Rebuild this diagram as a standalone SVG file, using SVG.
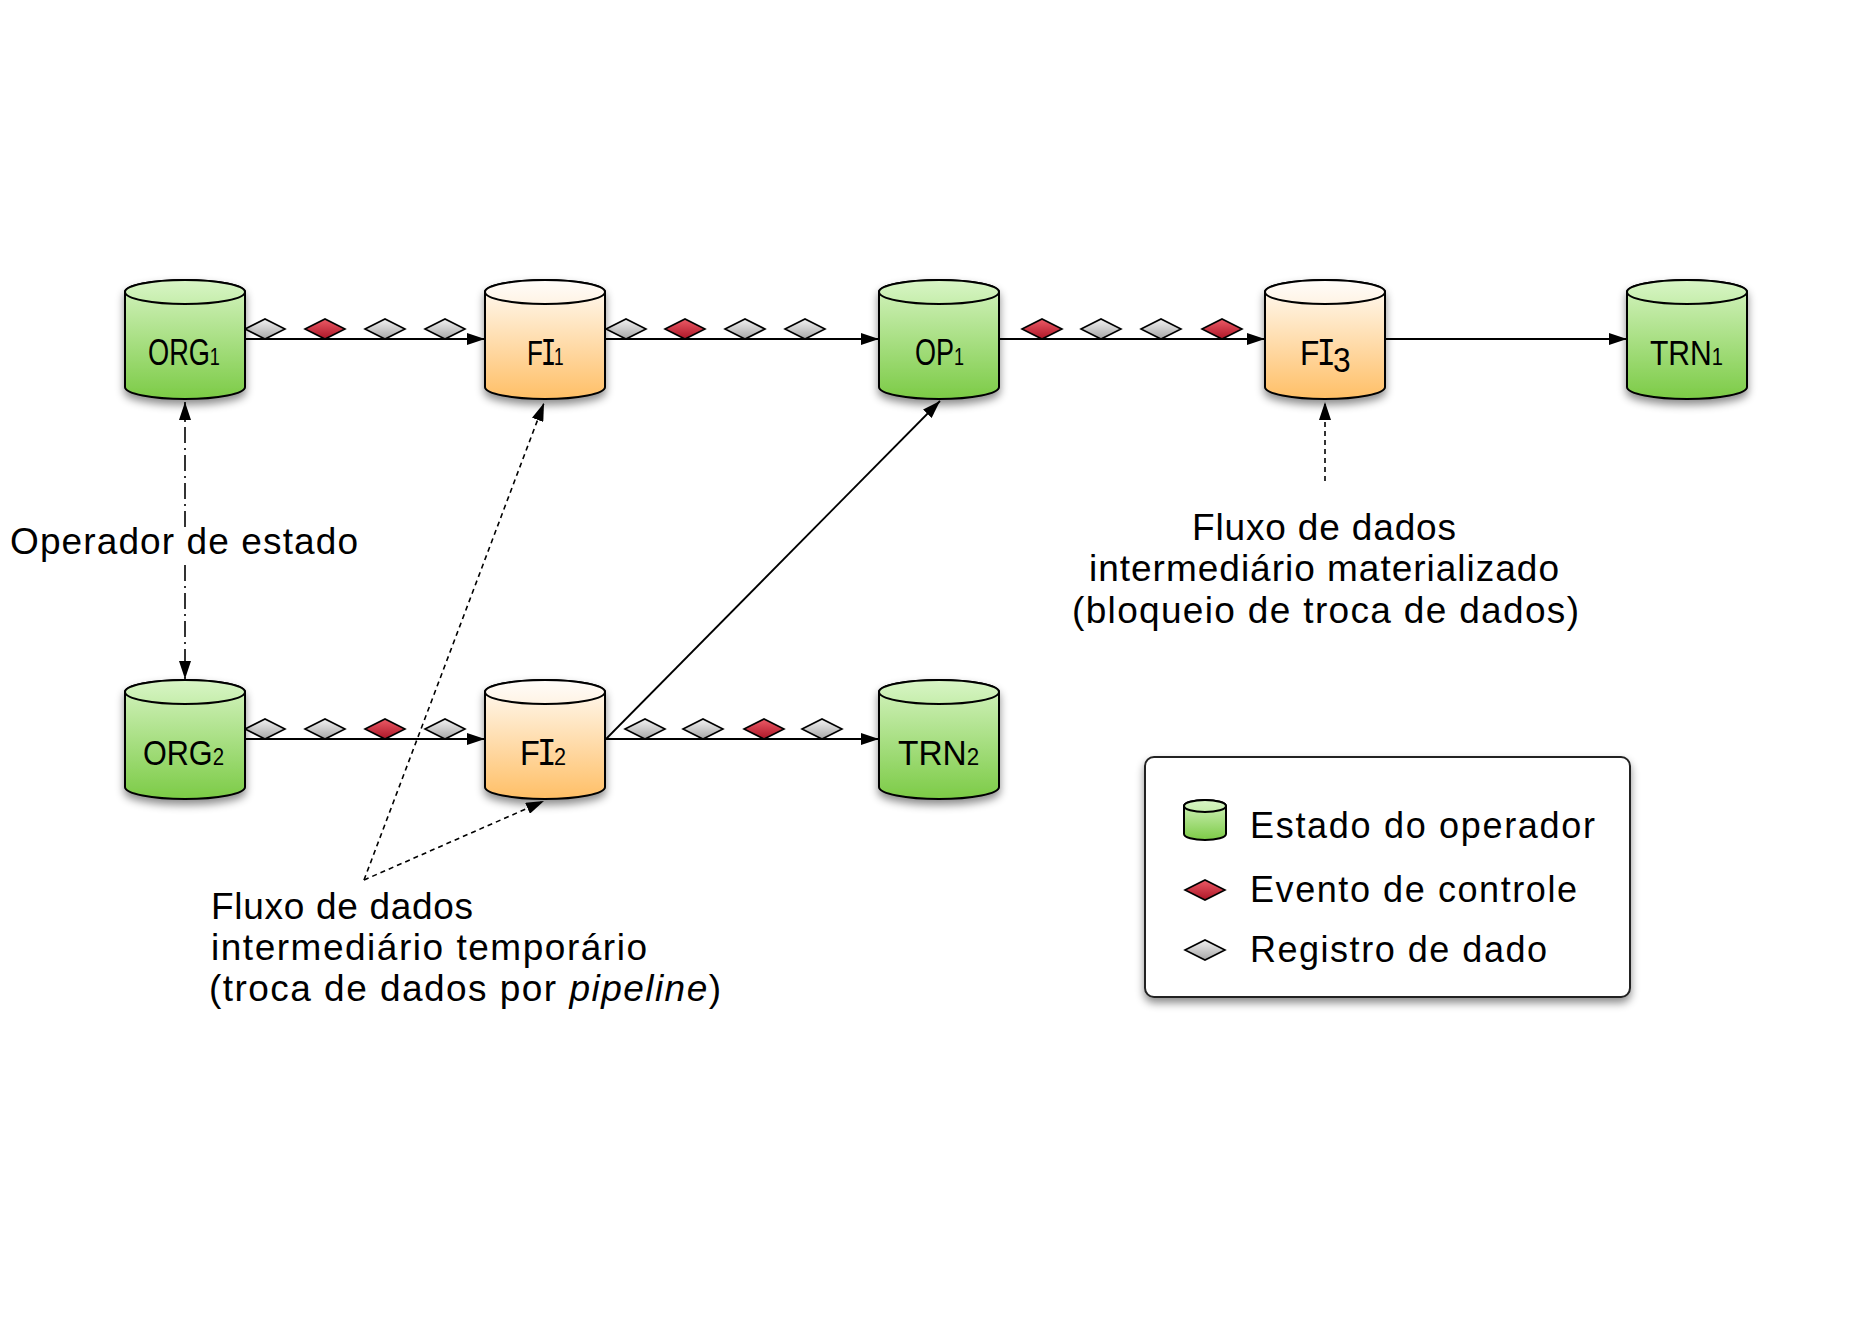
<svg xmlns="http://www.w3.org/2000/svg" xmlns:xlink="http://www.w3.org/1999/xlink" width="1869" height="1323" viewBox="0 0 1869 1323">
<style>
  text { font-family: "Liberation Sans", Arial, sans-serif; fill: #000; }
  .lbl { font-size: 36px; }
  .mono { font-family: "DejaVu Sans Mono", "Liberation Mono", monospace; font-size: 36px; }
  .sub { font-size: 24px; }
  .note { font-size: 37px; }
  .leg { font-size: 36px; }
  .edge { stroke: #000; stroke-width: 1.8; fill: none; }
  .dash { stroke: #000; stroke-width: 1.6; fill: none; stroke-dasharray: 5 4; }
  .dashdot { stroke: #000; stroke-width: 1.6; fill: none; stroke-dasharray: 16 5 2 5; }
  .outline { stroke: #000; stroke-width: 2; }
</style>
<defs>
  <linearGradient id="gG" x1="0" y1="0" x2="0" y2="1">
    <stop offset="0" stop-color="#d6f4c2"/>
    <stop offset="1" stop-color="#7ccb46"/>
  </linearGradient>
  <linearGradient id="gGtop" x1="0" y1="0" x2="0" y2="1">
    <stop offset="0" stop-color="#d8f5c6"/>
    <stop offset="1" stop-color="#c6eeac"/>
  </linearGradient>
  <linearGradient id="gO" x1="0" y1="0" x2="0" y2="1">
    <stop offset="0" stop-color="#fffcf8"/>
    <stop offset="1" stop-color="#ffbf66"/>
  </linearGradient>
  <linearGradient id="gOtop" x1="0" y1="0" x2="0" y2="1">
    <stop offset="0" stop-color="#fffdfa"/>
    <stop offset="1" stop-color="#fff3e4"/>
  </linearGradient>
  <linearGradient id="gGray" x1="0" y1="0" x2="0" y2="1">
    <stop offset="0" stop-color="#f2f2f2"/>
    <stop offset="1" stop-color="#a6a6a6"/>
  </linearGradient>
  <linearGradient id="gRed" x1="0" y1="0" x2="0" y2="1">
    <stop offset="0" stop-color="#ec5a66"/>
    <stop offset="1" stop-color="#ad1627"/>
  </linearGradient>
  <filter id="shadow" x="-20%" y="-20%" width="140%" height="150%">
    <feDropShadow dx="0" dy="5" stdDeviation="4" flood-color="#000" flood-opacity="0.45"/>
  </filter>
  <marker id="arr" markerWidth="18" markerHeight="12" refX="18" refY="6" orient="auto-start-reverse" markerUnits="userSpaceOnUse">
    <path d="M0,0 L18,6 L0,12 Z" fill="#000"/>
  </marker>
  <g id="cylG">
    <path class="outline" d="M0,12 A60,12 0 0 1 120,12 L120,107 A60,12 0 0 1 0,107 Z" fill="url(#gG)"/>
    <ellipse class="outline" cx="60" cy="12" rx="60" ry="12" fill="url(#gGtop)"/>
  </g>
  <g id="cylO">
    <path class="outline" d="M0,12 A60,12 0 0 1 120,12 L120,107 A60,12 0 0 1 0,107 Z" fill="url(#gO)"/>
    <ellipse class="outline" cx="60" cy="12" rx="60" ry="12" fill="url(#gOtop)"/>
  </g>
  <path id="dG" d="M-20,0 L0,-10 L20,0 L0,10 Z" fill="url(#gGray)" stroke="#000" stroke-width="1.6"/>
  <path id="dR" d="M-20,0 L0,-10 L20,0 L0,10 Z" fill="url(#gRed)" stroke="#000" stroke-width="1.6"/>
</defs>

<rect width="1869" height="1323" fill="#fff"/>

<g id="connectors">
  <line class="edge" x1="245" y1="339" x2="485" y2="339" marker-end="url(#arr)"/>
  <line class="edge" x1="605" y1="339" x2="879" y2="339" marker-end="url(#arr)"/>
  <line class="edge" x1="999" y1="339" x2="1265" y2="339" marker-end="url(#arr)"/>
  <line class="edge" x1="1385" y1="339" x2="1627" y2="339" marker-end="url(#arr)"/>
  <line class="edge" x1="245" y1="739" x2="485" y2="739" marker-end="url(#arr)"/>
  <line class="edge" x1="605" y1="739" x2="879" y2="739" marker-end="url(#arr)"/>
  <line class="edge" x1="606" y1="739" x2="940" y2="401" marker-end="url(#arr)"/>
  <line class="dash" x1="364" y1="880" x2="544" y2="403" marker-end="url(#arr)"/>
  <line class="dash" x1="364" y1="880" x2="544" y2="801" marker-end="url(#arr)"/>
  <line class="dash" x1="1325" y1="481" x2="1325" y2="402" marker-end="url(#arr)"/>
  <line class="dashdot" x1="185" y1="527" x2="185" y2="402" marker-end="url(#arr)"/>
  <line class="dashdot" x1="185" y1="565" x2="185" y2="679" marker-end="url(#arr)"/>

  <g id="tokens">
    <use href="#dG" x="265" y="329"/>
    <use href="#dR" x="325" y="329"/>
    <use href="#dG" x="385" y="329"/>
    <use href="#dG" x="445" y="329"/>

    <use href="#dG" x="626" y="329"/>
    <use href="#dR" x="685" y="329"/>
    <use href="#dG" x="745" y="329"/>
    <use href="#dG" x="805" y="329"/>

    <use href="#dR" x="1042" y="329"/>
    <use href="#dG" x="1101" y="329"/>
    <use href="#dG" x="1161" y="329"/>
    <use href="#dR" x="1222" y="329"/>

    <use href="#dG" x="265" y="729"/>
    <use href="#dG" x="325" y="729"/>
    <use href="#dR" x="385" y="729"/>
    <use href="#dG" x="445" y="729"/>

    <use href="#dG" x="645" y="729"/>
    <use href="#dG" x="703" y="729"/>
    <use href="#dR" x="764" y="729"/>
    <use href="#dG" x="822" y="729"/>
  </g>
</g>

<g id="ORG1">
  <use href="#cylG" x="125" y="280" filter="url(#shadow)"/>
  <text transform="translate(148,365) scale(0.755,1)"><tspan class="lbl">ORG</tspan><tspan class="sub">1</tspan></text>
</g>
<g id="FI1">
  <use href="#cylO" x="485" y="280" filter="url(#shadow)"/>
  <text transform="translate(527,365) scale(0.72,1)"><tspan class="lbl">F</tspan><tspan class="mono" dx="-3">I</tspan><tspan class="sub" dx="-3">1</tspan></text>
</g>
<g id="OP1">
  <use href="#cylG" x="879" y="280" filter="url(#shadow)"/>
  <text transform="translate(915,365) scale(0.75,1)"><tspan class="lbl">OP</tspan><tspan class="sub">1</tspan></text>
</g>
<g id="FI3">
  <use href="#cylO" x="1265" y="280" filter="url(#shadow)"/>
  <text transform="translate(1300,365) scale(0.88,1)"><tspan class="lbl">F</tspan><tspan class="mono" dx="-3">I</tspan><tspan class="lbl" dx="-3" dy="7">3</tspan></text>
</g>
<g id="TRN1">
  <use href="#cylG" x="1627" y="280" filter="url(#shadow)"/>
  <text transform="translate(1650,365) scale(0.836,1)"><tspan class="lbl">TRN</tspan><tspan class="sub">1</tspan></text>
</g>
<g id="ORG2">
  <use href="#cylG" x="125" y="680" filter="url(#shadow)"/>
  <text transform="translate(143,765) scale(0.85,1)"><tspan class="lbl">ORG</tspan><tspan class="sub" font-size="26">2</tspan></text>
</g>
<g id="FI2">
  <use href="#cylO" x="485" y="680" filter="url(#shadow)"/>
  <text transform="translate(520,765) scale(0.9,1)"><tspan class="lbl">F</tspan><tspan class="mono" dx="-3">I</tspan><tspan class="sub" font-size="26" dx="-3">2</tspan></text>
</g>
<g id="TRN2">
  <use href="#cylG" x="879" y="680" filter="url(#shadow)"/>
  <text transform="translate(898,765) scale(0.93,1)"><tspan class="lbl">TRN</tspan><tspan class="sub" font-size="26">2</tspan></text>
</g>

<g id="label-estado">
  <text class="note" x="10" y="554" textLength="348" lengthAdjust="spacing">Operador de estado</text>
</g>

<g id="label-pipeline">
  <text class="note" x="211" y="919" textLength="262" lengthAdjust="spacing">Fluxo de dados</text>
  <text class="note" x="211" y="960" textLength="436" lengthAdjust="spacing">intermediário temporário</text>
  <text class="note" x="209" y="1001" textLength="512" lengthAdjust="spacing">(troca de dados por <tspan font-style="italic">pipeline</tspan>)</text>
</g>

<g id="label-materializado">
  <text class="note" x="1192" y="540" textLength="264" lengthAdjust="spacing">Fluxo de dados</text>
  <text class="note" x="1089" y="581" textLength="470" lengthAdjust="spacing">intermediário materializado</text>
  <text class="note" x="1072" y="623" textLength="507" lengthAdjust="spacing">(bloqueio de troca de dados)</text>
</g>

<g id="legend">
  <rect x="1145" y="757" width="485" height="240" rx="9" fill="#fff" stroke="#222" stroke-width="2" filter="url(#shadow)"/>
  <path class="outline" d="M1184,806 A21,6 0 0 1 1226,806 L1226,834 A21,6 0 0 1 1184,834 Z" fill="url(#gG)"/>
  <ellipse class="outline" cx="1205" cy="806" rx="21" ry="6" fill="url(#gGtop)"/>
  <use href="#dR" x="1205" y="890"/>
  <use href="#dG" x="1205" y="950"/>
  <text class="leg" x="1250" y="838" textLength="345" lengthAdjust="spacing">Estado do operador</text>
  <text class="leg" x="1250" y="902" textLength="327" lengthAdjust="spacing">Evento de controle</text>
  <text class="leg" x="1250" y="962" textLength="297" lengthAdjust="spacing">Registro de dado</text>
</g>
</svg>
